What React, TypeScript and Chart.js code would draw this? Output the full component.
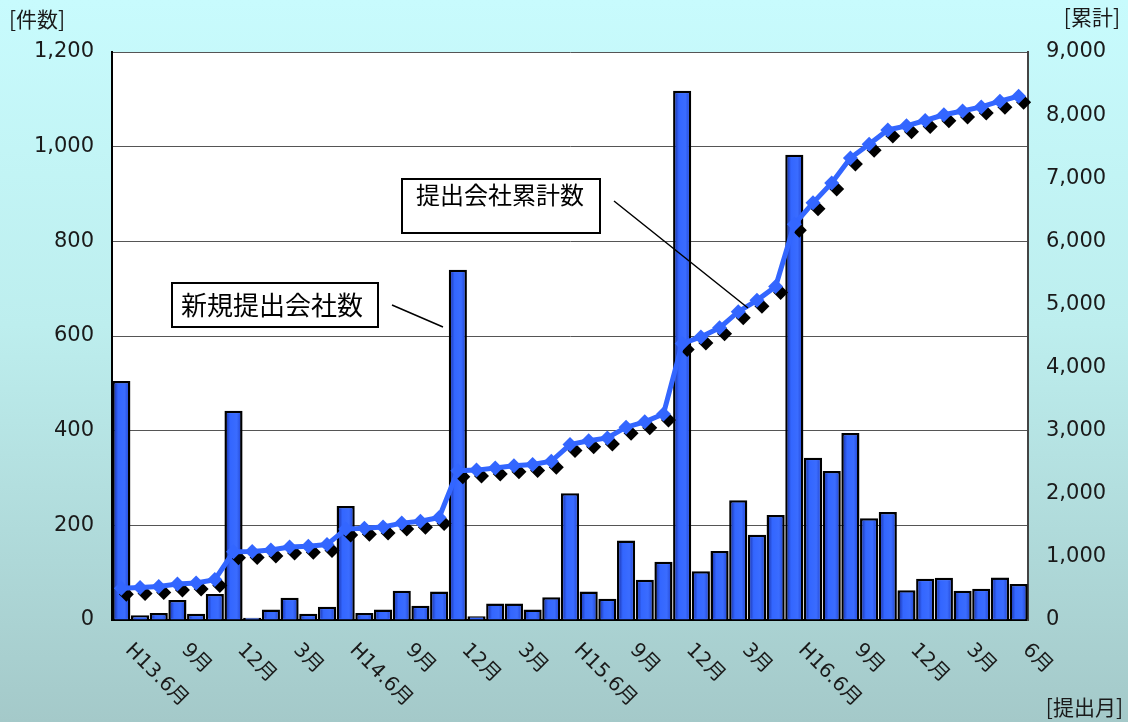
import React, { useEffect, useRef } from "react";
import { Chart, registerables } from "chart.js";

Chart.register(...registerables);

const categories: string[] = [
  "H13.6", "H13.7", "H13.8", "H13.9", "H13.10", "H13.11", "H13.12",
  "H14.1", "H14.2", "H14.3", "H14.4", "H14.5", "H14.6", "H14.7", "H14.8",
  "H14.9", "H14.10", "H14.11", "H14.12", "H15.1", "H15.2", "H15.3", "H15.4",
  "H15.5", "H15.6", "H15.7", "H15.8", "H15.9", "H15.10", "H15.11", "H15.12",
  "H16.1", "H16.2", "H16.3", "H16.4", "H16.5", "H16.6", "H16.7", "H16.8",
  "H16.9", "H16.10", "H16.11", "H16.12", "H17.1", "H17.2", "H17.3", "H17.4",
  "H17.5", "H17.6",
];

// shown x tick labels (every third month)
const xTickLabels: string[] = [
  "H13.6月", "9月", "12月", "3月", "H14.6月", "9月", "12月", "3月",
  "H15.6月", "9月", "12月", "3月", "H16.6月", "9月", "12月", "3月", "6月",
];

const newCompanies: number[] = [
  505, 10, 15, 42, 13, 55, 442, 5, 22, 47, 13, 28, 241, 15, 22, 62, 30, 60,
  740, 8, 35, 35, 22, 48, 268, 60, 45, 168, 85, 123, 1118, 103, 146, 253, 180,
  222, 983, 343, 315, 395, 215, 228, 63, 87, 89, 62, 66, 90, 76,
];

const cumulative: number[] = [
  505, 515, 530, 570, 585, 640, 1080, 1085, 1110, 1155, 1170, 1195, 1440,
  1455, 1475, 1535, 1565, 1625, 2365, 2375, 2410, 2445, 2465, 2515, 2780,
  2840, 2885, 3055, 3140, 3265, 4380, 4485, 4630, 4885, 5065, 5285, 6270,
  6610, 6925, 7320, 7540, 7765, 7830, 7915, 8005, 8065, 8130, 8220, 8300,
];

const leftTitle = "[件数]";
const rightTitle = "[累計]";
const bottomTitle = "[提出月]";
const barLabel = "新規提出会社数";
const lineLabel = "提出会社累計数";

const NUM_FONT = '"DejaVu Sans", "Noto Sans CJK JP", sans-serif';
const CJK_FONT = '"Noto Sans CJK JP", sans-serif';

export default function App() {
  const canvasRef = useRef<HTMLCanvasElement | null>(null);

  useEffect(() => {
    const canvas = canvasRef.current;
    if (!canvas) return;

    const decoPlugin = {
      id: "deco",
      beforeDraw(chart: any) {
        const { ctx, chartArea } = chart;
        ctx.save();
        ctx.fillStyle = "#ffffff";
        ctx.fillRect(
          chartArea.left,
          chartArea.top,
          chartArea.right - chartArea.left,
          chartArea.bottom - chartArea.top
        );
        ctx.restore();
      },
      beforeDatasetDraw(chart: any, args: any) {
        if (args.index === 1) {
          chart.ctx.save();
          chart.ctx.translate(5, 6);
        }
      },
      afterDatasetDraw(chart: any, args: any) {
        const ctx = chart.ctx;
        if (args.index === 1) {
          ctx.restore();
        }
        if (args.index === 0) {
          const meta = chart.getDatasetMeta(0);
          ctx.save();
          meta.data.forEach((bar: any) => {
            const w = bar.width;
            const l = bar.x - w / 2 + 2.5;
            const r = bar.x + w / 2 - 2.5;
            const t = bar.y + 2.5;
            const b = bar.base - 1;
            if (b - t <= 0 || r - l <= 0) return;
            const g = ctx.createLinearGradient(l, 0, r, 0);
            g.addColorStop(0, "#2140c0");
            g.addColorStop(0.25, "#3366ff");
            g.addColorStop(0.75, "#3a6cff");
            g.addColorStop(1, "#2a52e0");
            ctx.fillStyle = g;
            ctx.fillRect(l, t, r - l, b - t);
          });
          ctx.restore();
        }
      },
      afterDraw(chart: any) {
        const { ctx, chartArea, scales } = chart;
        const xs = scales.x;
        ctx.save();
        // x tick labels, rotated clockwise
        ctx.fillStyle = "#1a1a1a";
        ctx.font = `20px ${NUM_FONT}`;
        ctx.textAlign = "left";
        ctx.textBaseline = "top";
        xTickLabels.forEach((lab, i) => {
          const px = xs.getPixelForValue(i * 3);
          ctx.save();
          ctx.translate(px + 14, chartArea.bottom + 20);
          ctx.rotate(Math.PI / 4);
          ctx.fillText(lab, 0, 0);
          ctx.restore();
        });

        // axis titles
        ctx.font = `21px ${CJK_FONT}`;
        ctx.textBaseline = "middle";
        ctx.textAlign = "left";
        ctx.fillText(leftTitle, 9, 19);
        ctx.textAlign = "right";
        ctx.fillText(rightTitle, 1120, 17);
        ctx.fillText(bottomTitle, 1123, 707);

        // annotation boxes
        ctx.lineWidth = 2;
        ctx.strokeStyle = "#000000";
        ctx.fillStyle = "#ffffff";
        ctx.fillRect(172, 283, 206, 44);
        ctx.strokeRect(172, 283, 206, 44);
        ctx.fillRect(402, 179, 198, 54);
        ctx.strokeRect(402, 179, 198, 54);

        ctx.fillStyle = "#000000";
        ctx.textAlign = "left";
        ctx.font = `26px ${CJK_FONT}`;
        ctx.fillText(barLabel, 181, 305);
        ctx.font = `24px ${CJK_FONT}`;
        ctx.fillText(lineLabel, 416, 195);

        // leader lines
        ctx.lineWidth = 1.5;
        ctx.beginPath();
        ctx.moveTo(392, 305);
        ctx.lineTo(443, 327);
        ctx.moveTo(614, 201);
        ctx.lineTo(748, 308);
        ctx.stroke();
        ctx.restore();
      },
    };

    const chart = new Chart(canvas, {
      type: "bar",
      data: {
        labels: categories,
        datasets: [
          {
            type: "bar",
            label: barLabel,
            data: newCompanies,
            backgroundColor: "#3366ff",
            borderColor: "#000000",
            borderWidth: 2.5,
            barPercentage: 0.97,
            categoryPercentage: 1,
            yAxisID: "y",
            order: 3,
          },
          {
            type: "line",
            label: "shadow",
            data: cumulative,
            showLine: false,
            pointStyle: "rectRot",
            pointRadius: 7.5,
            pointBackgroundColor: "#000000",
            pointBorderWidth: 0,
            borderColor: "#000000",
            yAxisID: "y1",
            order: 2,
          },
          {
            type: "line",
            label: lineLabel,
            data: cumulative,
            borderColor: "#3366ff",
            borderWidth: 5,
            pointStyle: "rectRot",
            pointRadius: 7.5,
            pointBackgroundColor: "#3366ff",
            pointBorderWidth: 0,
            tension: 0,
            yAxisID: "y1",
            order: 1,
          },
        ],
      },
      options: {
        animation: false,
        responsive: true,
        maintainAspectRatio: false,
        layout: { padding: { top: 52, left: 0, right: 0, bottom: 0 } },
        plugins: {
          legend: { display: false },
          tooltip: { enabled: false },
          title: { display: false },
        },
        scales: {
          x: {
            offset: true,
            grid: { display: false, drawTicks: false },
            border: { display: true, color: "#000000", width: 2 },
            ticks: { display: false },
            afterFit(scale: any) {
              scale.height = 102;
            },
          },
          y: {
            position: "left",
            min: 0,
            max: 1200,
            ticks: {
              stepSize: 200,
              padding: 18,
              color: "#1a1a1a",
              font: { family: NUM_FONT, size: 21 },
            },
            grid: { color: "#555555", lineWidth: 1, drawTicks: false },
            border: { display: true, color: "#000000", width: 2 },
            afterFit(scale: any) {
              scale.width = 112;
            },
          },
          y1: {
            position: "right",
            min: 0,
            max: 9000,
            ticks: {
              stepSize: 1000,
              padding: 18,
              color: "#1a1a1a",
              font: { family: NUM_FONT, size: 21 },
            },
            grid: { display: false, drawTicks: false },
            border: { display: true, color: "#444444", width: 2 },
            afterFit(scale: any) {
              scale.width = 100;
            },
          },
        },
      },
      plugins: [decoPlugin],
    });

    return () => chart.destroy();
  }, []);

  return (
    <div
      style={{
        position: "fixed",
        left: 0,
        top: 0,
        width: 1128,
        height: 722,
        background: "linear-gradient(to bottom, #c8fbfd 0%, #bdeeee 45%, #a4c9c9 100%)",
      }}
    >
      <canvas ref={canvasRef} />
    </div>
  );
}
